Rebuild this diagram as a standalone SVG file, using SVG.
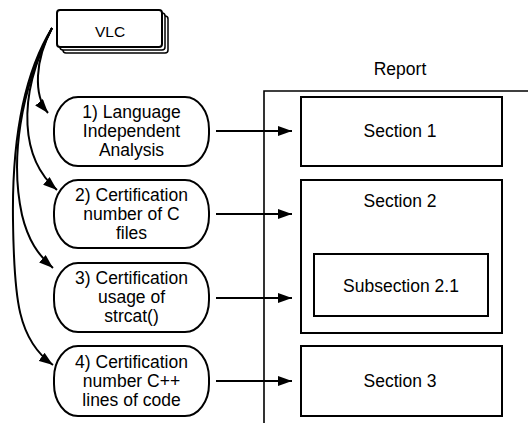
<svg xmlns="http://www.w3.org/2000/svg" width="528" height="423" viewBox="0 0 528 423">
<defs>
<marker id="ah" viewBox="0 0 14 10" refX="14" refY="5" markerWidth="14" markerHeight="10" markerUnits="userSpaceOnUse" orient="auto">
<path d="M0,0 L14,5 L0,10 Z" fill="#000"/>
</marker>
<style>
.t{font-family:"Liberation Sans",Arial,Helvetica,sans-serif;font-size:17.5px;fill:#000;text-anchor:middle}
.node{fill:#fff;stroke:#000;stroke-width:2}
.box{fill:#fff;stroke:#000;stroke-width:2}
.conn{fill:none;stroke:#000;stroke-width:2;marker-end:url(#ah)}
</style>
</defs>
<rect width="528" height="423" fill="#fff"/>

<g id="report">
<text class="t" x="400" y="75">Report</text>
<path d="M264,423 L264,91 L528,91" fill="none" stroke="#000" stroke-width="1.6"/>
</g>

<g id="vlc">
<rect x="63" y="16" width="105" height="37" rx="3" fill="#fff" stroke="#000" stroke-width="1.5"/>
<rect x="60" y="13" width="105" height="37" rx="3" fill="#fff" stroke="#000" stroke-width="1.5"/>
<rect x="57" y="10" width="105" height="37" rx="3" fill="#fff" stroke="#000" stroke-width="2"/>
<text class="t" x="110" y="37" style="font-size:15.5px">VLC</text>
</g>

<g id="n1">
<rect class="node" x="54" y="97" width="155" height="69" rx="24" ry="32"/>
<text class="t" x="131.5" y="118">1) Language</text>
<text class="t" x="131.5" y="137">Independent</text>
<text class="t" x="131.5" y="156">Analysis</text>
</g>
<g id="n2">
<rect class="node" x="54" y="180" width="155" height="68" rx="24" ry="32"/>
<text class="t" x="131.5" y="201">2) Certification</text>
<text class="t" x="131.5" y="220">number of C</text>
<text class="t" x="131.5" y="239">files</text>
</g>
<g id="n3">
<rect class="node" x="54" y="263" width="155" height="69" rx="24" ry="32"/>
<text class="t" x="131.5" y="284">3) Certification</text>
<text class="t" x="131.5" y="303">usage of</text>
<text class="t" x="131.5" y="322">strcat()</text>
</g>
<g id="n4">
<rect class="node" x="54" y="346" width="155" height="70" rx="24" ry="32"/>
<text class="t" x="131.5" y="368">4) Certification</text>
<text class="t" x="131.5" y="387">number C++</text>
<text class="t" x="131.5" y="406">lines of code</text>
</g>

<g id="s1">
<rect class="box" x="301" y="97" width="201" height="69"/>
<text class="t" x="400" y="137">Section 1</text>
</g>
<g id="s2">
<rect class="box" x="301" y="180" width="201" height="153"/>
<text class="t" x="400" y="207">Section 2</text>
</g>
<g id="s21">
<rect class="box" x="314" y="254" width="174" height="62"/>
<text class="t" x="401" y="292">Subsection 2.1</text>
</g>
<g id="s3">
<rect class="box" x="301" y="346" width="201" height="70"/>
<text class="t" x="400" y="387">Section 3</text>
</g>

<g id="connectors">
<path class="conn" d="M52,28 C35,60 33,95 48,113"/>
<path class="conn" d="M52,28 C15,100 22,160 57,190"/>
<path class="conn" d="M52,28 C20,90 10,160 22,215 C28,240 38,255 53,268"/>
<path class="conn" d="M52,28 C20,80 12,150 13,220 C14,300 18,340 53,365"/>
<path class="conn" d="M216,131 L292,131"/>
<path class="conn" d="M216,214 L292,214"/>
<path class="conn" d="M216,298 L292,298"/>
<path class="conn" d="M216,381 L292,381"/>
</g>
</svg>
